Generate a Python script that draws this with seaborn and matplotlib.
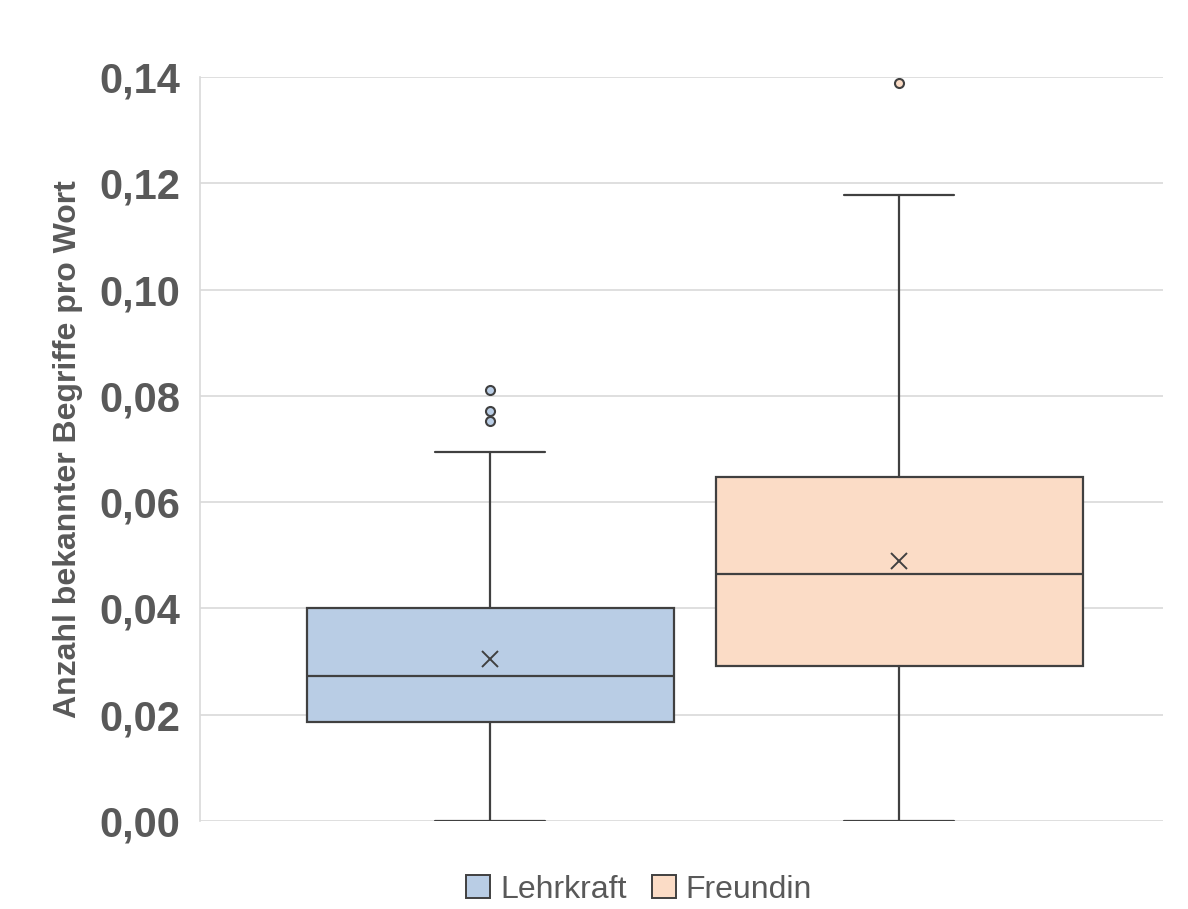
import matplotlib
matplotlib.use("Agg")
import matplotlib.pyplot as plt
from matplotlib.patches import Patch
from matplotlib.ticker import FuncFormatter
import seaborn as sns

# Summary statistics per group
groups = ["Lehrkraft", "Freundin"]
whisker_low = [0.0, 0.0]
q1 = [0.0186, 0.0292]
median = [0.0273, 0.0465]
q3 = [0.0401, 0.0647]
whisker_high = [0.0694, 0.1178]
mean = [0.0305, 0.0489]
outliers = [[0.0811, 0.0771, 0.0753], [0.1388]]

colors = ["#B9CDE5", "#FBDCC6"]
edge = "#404040"
text_col = "#595959"

sns.set_theme(style="whitegrid")
plt.rcParams["font.family"] = ["Liberation Sans", "DejaVu Sans"]

fig = plt.figure(figsize=(11.88, 9.09), dpi=100)
ax = fig.add_axes([0.1684, 0.0968, 0.8106, 0.8185])

stats = []
for i, g in enumerate(groups):
    stats.append(dict(label=g, whislo=whisker_low[i], q1=q1[i], med=median[i],
                      q3=q3[i], whishi=whisker_high[i], mean=mean[i],
                      fliers=outliers[i]))

bp = ax.bxp(stats, positions=range(len(groups)), widths=0.897, patch_artist=True,
            showmeans=True, showfliers=True,
            boxprops=dict(edgecolor=edge, linewidth=1.6),
            medianprops=dict(color=edge, linewidth=1.6),
            whiskerprops=dict(color=edge, linewidth=1.6),
            capprops=dict(color=edge, linewidth=1.6),
            meanprops=dict(marker="x", markeredgecolor=edge, markersize=12,
                           markeredgewidth=1.4),
            capwidths=0.269)
for box, c in zip(bp["boxes"], colors):
    box.set_facecolor(c)
for fl, c in zip(bp["fliers"], colors):
    fl.set(marker="o", markerfacecolor=c, markeredgecolor=edge,
           markersize=6.5, markeredgewidth=1.5, clip_on=False)

ax.set_xlim(-0.709, 1.645)
ax.set_ylim(0, 0.14)
ax.set_yticks([0, 0.02, 0.04, 0.06, 0.08, 0.10, 0.12, 0.14])
ax.yaxis.set_major_formatter(FuncFormatter(lambda v, p: f"{v:.2f}".replace(".", ",")))
ax.set_xticks([])
ax.grid(axis="y", color="#D9D9D9", linewidth=1.2)
ax.grid(axis="x", visible=False)
ax.set_axisbelow(True)
for s in ["top", "right", "bottom"]:
    ax.spines[s].set_visible(False)
ax.spines["left"].set_color("#D9D9D9")
ax.spines["left"].set_linewidth(1.2)
ax.tick_params(axis="y", length=0, pad=14, labelsize=30, labelcolor=text_col)
for lab in ax.get_yticklabels():
    lab.set_fontweight("bold")

ax.set_ylabel("Anzahl bekannter Begriffe pro Wort", fontsize=23, fontweight="bold",
              color=text_col, labelpad=12)

handles = [Patch(facecolor=c, edgecolor=edge, linewidth=1.4, label=g)
           for g, c in zip(groups, colors)]
fig.legend(handles=handles, loc="center", bbox_to_anchor=(0.538, 0.021),
           ncol=2, frameon=False, fontsize=23, labelcolor=text_col,
           handlelength=0.75, handleheight=0.75, handletextpad=0.3,
           columnspacing=0.8)

fig.savefig("out.png", dpi=100)
